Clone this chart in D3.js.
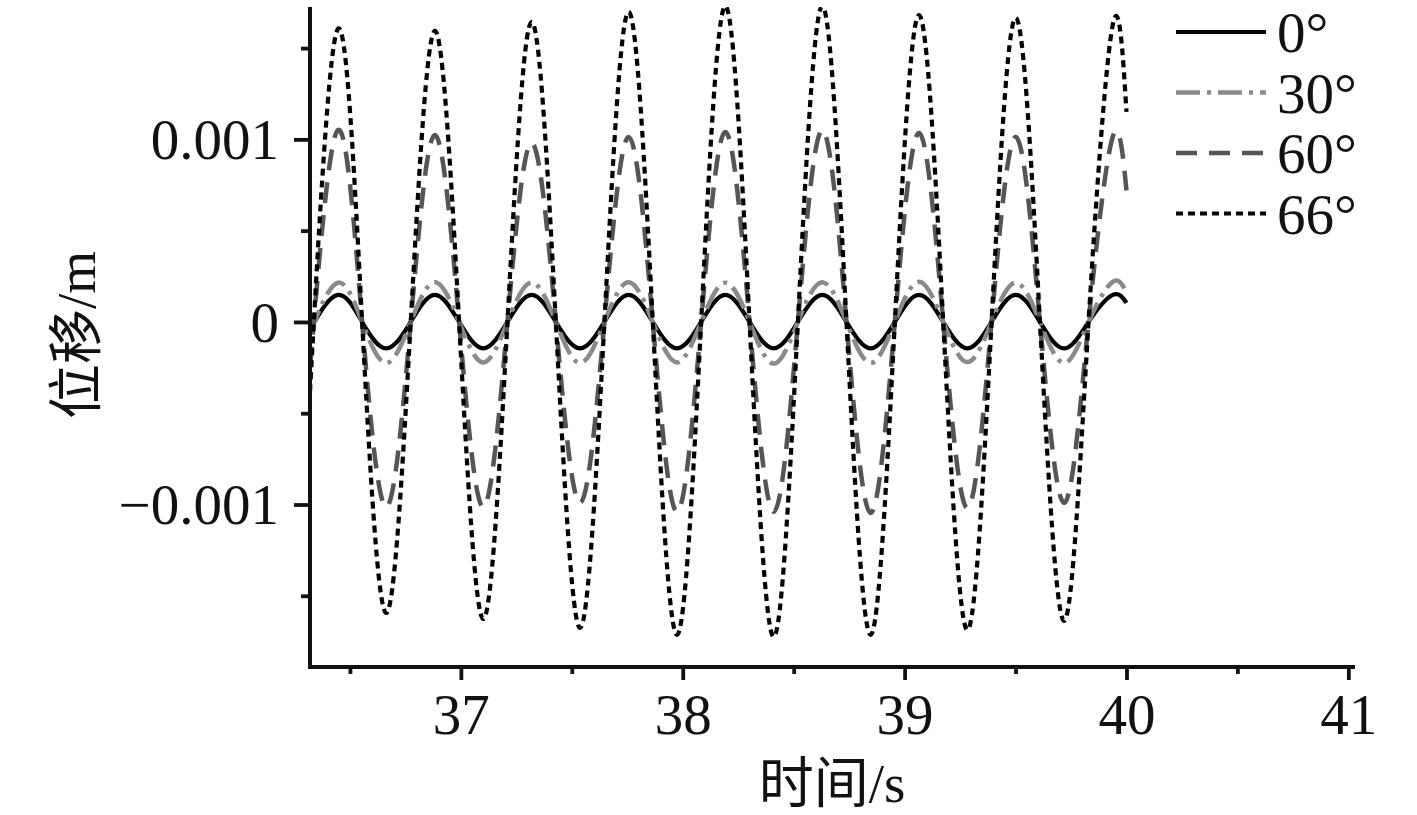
<!DOCTYPE html>
<html>
<head>
<meta charset="utf-8">
<script src="https://cdn.jsdelivr.net/npm/d3@7/dist/d3.min.js"></script>
<style>
  html, body { margin: 0; padding: 0; background: #fff; }
  svg { display: block; }
  text { font-family: "Liberation Serif", "Times New Roman", "Noto Sans CJK SC", serif; fill: #111; }
</style>
</head>
<body>
<script>
// ---- data ----
const time = [36.32, 36.446, 36.555, 36.664, 36.774, 36.883, 36.992, 37.101, 37.210, 37.319, 37.428,
  37.537, 37.647, 37.756, 37.865, 37.974, 38.083, 38.192, 38.301, 38.410, 38.519, 38.629, 38.738,
  38.847, 38.956, 39.065, 39.174, 39.283, 39.392, 39.501, 39.610, 39.720, 39.829, 39.938, 40.0];

const deg0 = [-0.00004, 0.000148, 0, -0.000145, 0, 0.000148, 0, -0.000145, 0, 0.000148, 0, -0.000145, 0,
  0.000148, 0, -0.000145, 0, 0.000148, 0, -0.000145, 0, 0.000148, 0, -0.000145, 0, 0.000148, 0, -0.000145, 0,
  0.000148, 0, -0.000145, 0, 0.000148, 0.000104];

const deg30 = [-0.00006, 0.000215, 0, -0.000225, 0, 0.000218, 0, -0.000222, 0, 0.000216, 0, -0.000225, 0,
  0.000218, 0, -0.000222, 0, 0.000215, 0, -0.000228, 0, 0.000218, 0, -0.000225, 0, 0.00022, 0, -0.00022, 0,
  0.000215, 0, -0.000225, 0, 0.00022, 0.00016];

const deg60 = [-0.00025, 0.001051, 0, -0.001013, 0, 0.001024, 0, -0.001013, 0, 0.00098, 0, -0.000991, 0,
  0.001013, 0, -0.00104, 0, 0.00104, 0, -0.00104, 0, 0.00105, 0, -0.001046, 0, 0.001035, 0, -0.001019, 0,
  0.001013, 0, -0.000991, 0, 0.001013, 0.00072];

const deg66 = [-0.00038, 0.001605, 0, -0.001594, 0, 0.001594, 0, -0.001627, 0, 0.001643, 0, -0.001676, 0,
  0.001698, 0, -0.001714, 0, 0.00173, 0, -0.001725, 0, 0.00173, 0, -0.001714, 0, 0.001681, 0, -0.001687, 0,
  0.001665, 0, -0.001637, 0, 0.001626, 0.00115];

const seriesNames = ["0°", "30°", "60°", "66°"];
const seriesValues = [deg0, deg30, deg60, deg66];

const xTicksMajor = [37, 38, 39, 40, 41];
const xTicksMinor = [36.5, 37.5, 38.5, 39.5, 40.5];
const yTicksMajor = [-0.001, 0, 0.001];
const yTickLabels = ["\u22120.001", "0", "0.001"];
const yTicksMinor = [-0.0015, -0.0005, 0.0005, 0.0015];
const xTitle = "时间/s";
const yTitle = "位移/m";

// ---- styles ----
const styles = [
  { color: "#000000", dash: null, width: 4.2 },
  { color: "#8a8a8a", dash: "24,7,4,7", width: 4.5 },
  { color: "#555555", dash: "21,12", width: 4.5 },
  { color: "#000000", dash: "7,5", width: 4.2 }
];

const W = 1417, H = 815;
const pL = 310, pR = 1355, pT = 7, pB = 667;

const svg = d3.select("body").append("svg").attr("width", W).attr("height", H);

const x = d3.scaleLinear().domain([36.32, 41.03]).range([pL, pR]);
const y = d3.scaleLinear().domain([-0.00189, 0.001725]).range([pB, pT]);

svg.append("defs").append("clipPath").attr("id", "clip")
  .append("rect").attr("x", pL).attr("y", pT).attr("width", pR - pL).attr("height", pB - pT);

// lines
const line = d3.line()
  .x((d, i) => x(time[i]))
  .y(d => y(d))
  .curve(d3.curveNatural);

const g = svg.append("g").attr("clip-path", "url(#clip)");
seriesValues.forEach((vals, k) => {
  const st = styles[k];
  g.append("path")
    .attr("d", line(vals))
    .attr("fill", "none")
    .attr("stroke", st.color)
    .attr("stroke-width", st.width)
    .attr("stroke-dasharray", st.dash)
    .attr("stroke-linejoin", "round");
});

// axes
const fs = 57;
const xAxisG = svg.append("g").attr("transform", `translate(0,${pB})`);
xAxisG.call(d3.axisBottom(x).tickValues(xTicksMajor).tickSize(13).tickSizeOuter(0).tickFormat(d3.format("d")));
const xMinorG = svg.append("g").attr("transform", `translate(0,${pB})`);
xMinorG.call(d3.axisBottom(x).tickValues(xTicksMinor).tickSize(7).tickSizeOuter(0).tickFormat(""));

const yAxisG = svg.append("g").attr("transform", `translate(${pL},0)`);
yAxisG.call(d3.axisLeft(y).tickValues(yTicksMajor).tickSize(16).tickSizeOuter(0)
  .tickFormat((d, i) => yTickLabels[i]));
const yMinorG = svg.append("g").attr("transform", `translate(${pL},0)`);
yMinorG.call(d3.axisLeft(y).tickValues(yTicksMinor).tickSize(9).tickSizeOuter(0).tickFormat(""));

[xAxisG, xMinorG, yAxisG, yMinorG].forEach(a => {
  a.selectAll(".domain").remove();
  a.selectAll(".tick line").attr("stroke", "#111").attr("stroke-width", 3.8);
  a.selectAll("text").style("font-size", fs + "px").attr("fill", "#111")
    .style("font-family", '"Liberation Serif", "Times New Roman", serif');
});
xAxisG.selectAll("text").attr("dy", null).attr("y", 67);
yAxisG.selectAll("text").attr("x", -31).attr("dy", "0.34em");

// axis lines
svg.append("line").attr("x1", pL).attr("x2", pL).attr("y1", pT).attr("y2", pB + 2)
  .attr("stroke", "#111").attr("stroke-width", 4);
svg.append("line").attr("x1", pL - 2).attr("x2", pR).attr("y1", pB).attr("y2", pB)
  .attr("stroke", "#111").attr("stroke-width", 4);

// titles
svg.append("text").attr("x", 832).attr("y", 802).attr("text-anchor", "middle")
  .style("font-size", "55px").text(xTitle);
svg.append("text").attr("transform", `translate(95,335) rotate(-90)`).attr("text-anchor", "middle")
  .style("font-size", "55px").text(yTitle);

// legend
const lg = svg.append("g");
seriesNames.forEach((name, k) => {
  const st = styles[k];
  const yy = 32 + k * 60.5;
  lg.append("line").attr("x1", 1176).attr("x2", 1266).attr("y1", yy).attr("y2", yy)
    .attr("stroke", st.color).attr("stroke-width", st.width)
    .attr("stroke-dasharray", st.dash);
  lg.append("text").attr("x", 1277).attr("y", yy + 20).style("font-size", fs + "px").text(name);
});
</script>
</body>
</html>
